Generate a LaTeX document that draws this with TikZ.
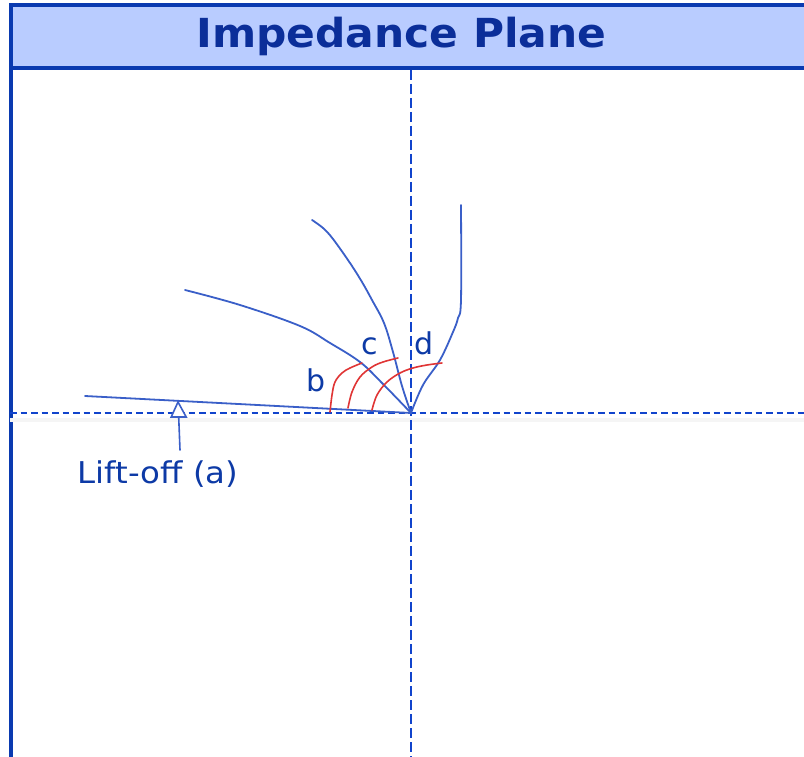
\documentclass[tikz,border=0pt]{standalone}
\usepackage{fontspec}
\setmainfont{DejaVu Sans}
\definecolor{hdrfill}{HTML}{B9CCFF}
\definecolor{hdrline}{HTML}{0A3AB0}
\definecolor{titletext}{HTML}{0B2E99}
\definecolor{labeltext}{HTML}{0D3AA6}
\definecolor{curveblue}{HTML}{3A5FC8}
\definecolor{axisblue}{HTML}{1144CC}
\definecolor{arcred}{HTML}{E03535}
\tikzset{
  axis/.style={axisblue, line width=1.7pt},
  curve/.style={curveblue, line width=1.8pt, line join=round, line cap=round},
  redarc/.style={arcred, line width=1.6pt, line cap=round},
  lbl/.style={text=labeltext, font=\fontsize{30}{34}\selectfont, inner sep=0pt},
}
\begin{document}
\begin{tikzpicture}[x=1pt,y=-1pt]
\useasboundingbox (0,0) rectangle (804,757);
% frame and header
\fill[white] (0,0) rectangle (804,757);
\filldraw[fill=hdrfill, draw=hdrline, line width=3.4pt] (11,5) rectangle (814,68);
\draw[hdrline, line width=3.4pt] (11,68) -- (11,760);
\node[anchor=base, text=titletext, inner sep=0pt] (title) at (401.5,48)
  {\scalebox{1.06}[1]{\fontsize{40}{44}\selectfont\bfseries Impedance Plane}};
% axes
\coordinate (O) at (411,413);
\coordinate (hl) at (10,413);
\coordinate (hr) at (806,413);
\coordinate (vt) at (411,70);
\coordinate (vb) at (411,760);
\draw[gray!8, line width=4pt] (10,420) -- (806,420);
\draw[axis, dash pattern=on 6.5pt off 4pt] (hl) -- (hr);
\draw[axis, dash pattern=on 10pt off 4pt] (vt) -- (vb);
% lift-off (a)
\coordinate (a0) at (85,396);
\draw[curve] (a0) -- (O);
% curve b
\draw[curve] plot[smooth, tension=0.6] coordinates {(185,290) (240,305) (300,326) (330,343) (360,362) (382,383) (411,413)};
% curve c
\draw[curve] plot[smooth, tension=0.6] coordinates {(312,220) (323,228) (333,239) (350,263) (362,282) (372,300) (384,323) (393,352) (402,386) (411,413)};
% curve d
\draw[curve] plot[smooth, tension=0.6] coordinates {(461,205) (461,300) (458,318) (453,332) (440,360) (423,385) (411,413)};
% red arcs
\draw[redarc] plot[smooth, tension=0.6] coordinates {(330,412) (332,395) (335,382) (342,373) (350,368) (362,363)};
\draw[redarc] plot[smooth, tension=0.6] coordinates {(348,408) (352,392) (360,377) (372,367) (383,362) (398,358)};
\draw[redarc] plot[smooth, tension=0.6] coordinates {(372,410) (377,395) (387,382) (400,373) (413,368) (427,365) (442,363)};
% labels
\node[lbl] (lb) at (316,380) {b};
\node[lbl] (lc) at (370,346) {c};
\node[lbl] (ld) at (424,343) {d};
\node[lbl] (lift) at (158,474) {\scalebox{1.08}[1]{Lift-off (a)}};
% arrow with open triangular head
\coordinate (arrowtip) at (178,402);
\coordinate (arrowbase) at (178.7,417);
\coordinate (arrowtail) at (180,450);
\draw[curveblue, line width=1.6pt, line cap=round] (arrowtail) -- (arrowbase);
\filldraw[fill=white, draw=curveblue, line width=1.6pt, line join=miter] (arrowtip) -- ([xshift=-7.5pt]arrowbase) -- ([xshift=7.5pt]arrowbase) -- cycle;
\end{tikzpicture}
\end{document}
